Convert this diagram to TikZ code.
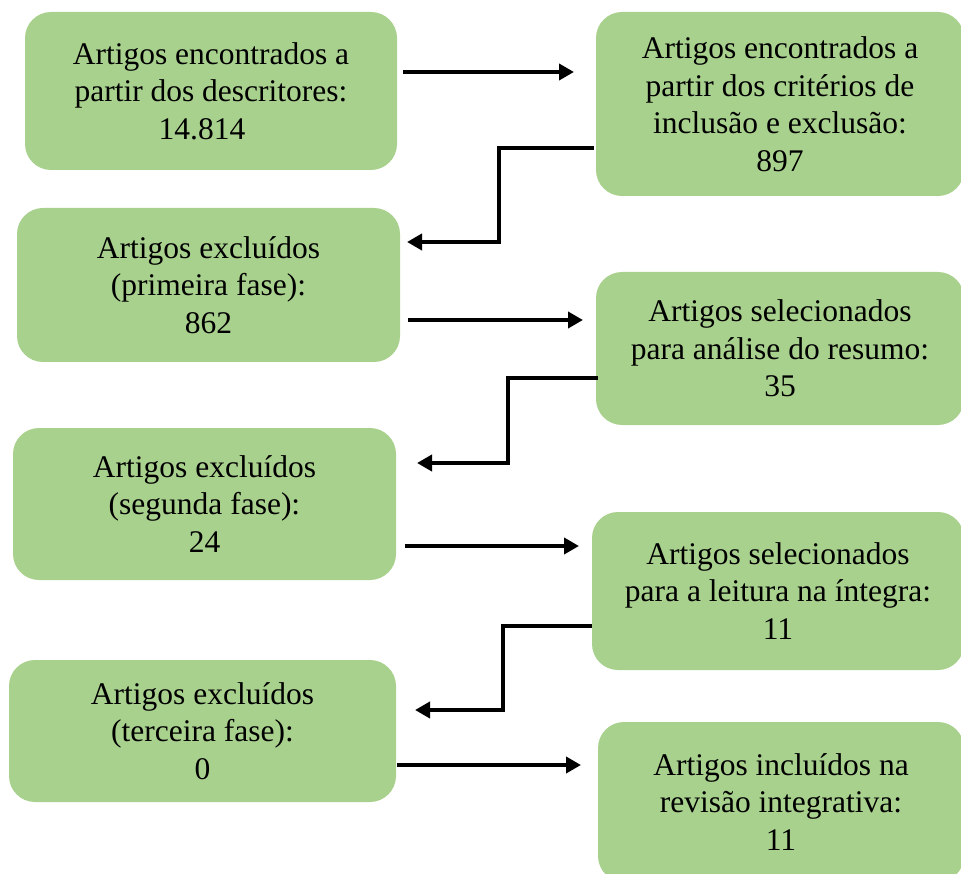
\documentclass[tikz,border=0pt]{standalone}
\usepackage{fontspec}
\setmainfont{Liberation Serif}
\usetikzlibrary{arrows.meta}
\definecolor{boxgreen}{HTML}{A9D18E}
\begin{document}
\begin{tikzpicture}[x=1pt,y=-1pt,
  gbox/.style={fill=boxgreen, draw=none, rounded corners=26pt, align=center,
    font=\fontsize{31.5}{37.5}\selectfont, inner sep=0pt, anchor=center},
  conn/.style={line width=4pt, -{Triangle[length=15pt,width=16pt]}}]
\useasboundingbox (0,0) rectangle (961,874);
\begin{scope}
\clip (0,0) rectangle (961,874);
\node[gbox, minimum width=372pt, minimum height=158pt] (b1) at (211,91) {Artigos encontrados a\\partir dos descritores:\hspace*{10pt}\\14.814\hspace*{18pt}};
\node[gbox, minimum width=368pt, minimum height=184pt] (b2) at (780,104) {Artigos encontrados a\\partir dos critérios de\\inclusão e exclusão:\\897};
\node[gbox, minimum width=383pt, minimum height=154pt] (b3) at (208.5,285) {Artigos excluídos\\(primeira fase):\\862};
\node[gbox, minimum width=368pt, minimum height=153pt] (b4) at (780,348.5) {Artigos selecionados\\para análise do resumo:\\35};
\node[gbox, minimum width=383pt, minimum height=152pt] (b5) at (204.5,504) {Artigos excluídos\\(segunda fase):\\24};
\node[gbox, minimum width=372pt, minimum height=158pt] (b6) at (778,591) {Artigos selecionados\\para a leitura na íntegra:\\11};
\node[gbox, minimum width=387pt, minimum height=142pt] (b7) at (202.5,731) {Artigos excluídos\\(terceira fase):\\0};
\node[gbox, minimum width=366pt, minimum height=160pt] (b8) at (781,802) {Artigos incluídos na\\revisão integrativa:\\11};
\end{scope}
% connector coordinates
\coordinate (a1s) at (403,72);
\coordinate (a1e) at (574,72);
\coordinate (a2s) at (594,148);
\coordinate (a2e) at (407,242);
\coordinate (a3s) at (408,320);
\coordinate (a3e) at (583,320);
\coordinate (a4s) at (598,378);
\coordinate (a4e) at (417,463);
\coordinate (a5s) at (405,546);
\coordinate (a5e) at (579,546);
\coordinate (a6s) at (592,626);
\coordinate (a6e) at (415,710);
\coordinate (a7s) at (397,765);
\coordinate (a7e) at (581,765);
\draw[conn] (a1s) -- (a1e);
\draw[conn] (a2s) -- (499,148) -- (499,242) -- (a2e);
\draw[conn] (a3s) -- (a3e);
\draw[conn] (a4s) -- (508,378) -- (508,463) -- (a4e);
\draw[conn] (a5s) -- (a5e);
\draw[conn] (a6s) -- (503,626) -- (503,710) -- (a6e);
\draw[conn] (a7s) -- (a7e);
\end{tikzpicture}
\end{document}
